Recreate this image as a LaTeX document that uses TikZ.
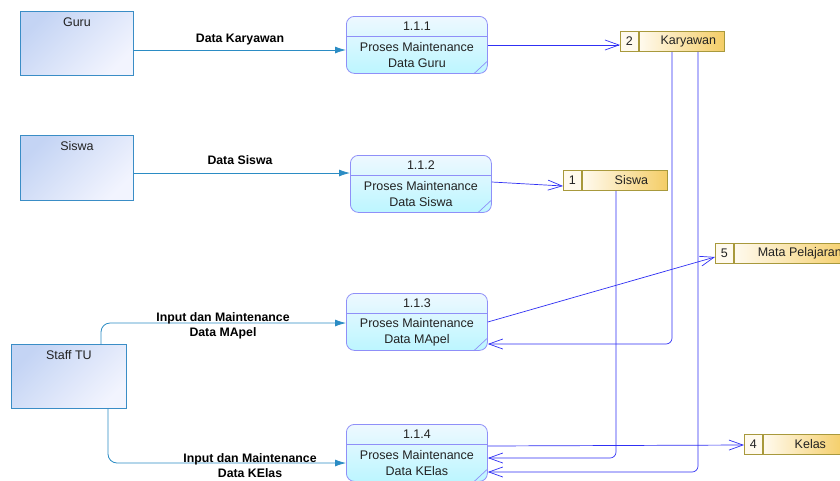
\documentclass[tikz,border=0pt]{standalone}
\usepackage{fontspec}
\setmainfont{Liberation Sans}
\usetikzlibrary{arrows.meta}

\definecolor{entline}{HTML}{3A8DC6}
\definecolor{enttop}{HTML}{C4D4F4}
\definecolor{entbot}{HTML}{F2F4FE}
\definecolor{flowent}{HTML}{2B8CC4}
\definecolor{procline}{HTML}{8F8FF8}
\definecolor{proctop}{HTML}{EEF8FF}
\definecolor{procbot}{HTML}{BCF6FF}
\definecolor{storeline}{HTML}{A8993C}
\definecolor{storeleft}{HTML}{FFFAEE}
\definecolor{storeright}{HTML}{F4CD66}
\definecolor{flowstore}{HTML}{3030F4}
\definecolor{ink}{HTML}{222222}

% process bubble: name, north-west x, north-west y, number, second text line
\newcommand\dfdproc[5]{%
  \node[proc, anchor=north west] (#1) at (#2,#3) {};
  \draw[procsep] ([yshift=-20pt]#1.north west) -- ([yshift=-20pt]#1.north east);
  \node[proctext] (#1num) at ([yshift=-10pt]#1.north) {#4};
  \node[proctext, align=center] (#1txt) at ([yshift=-10.5pt]#1.center) {Proses Maintenance\\#5};
  \draw[procsep] ([xshift=-14pt]#1.south east) -- ([yshift=13pt]#1.south east);
}
% data store: name, north-west x, north-west y, number, label, width of label cell
\newcommand\dfdstore[6]{%
  \node[storenum, anchor=north west] (#1n) at (#2,#3) {#4};
  \node[storename, anchor=north west, minimum width=#6] (#1) at (#1n.north east) {\hspace*{13pt}#5};
}

\begin{document}
\begin{tikzpicture}[x=1pt, y=-1pt,
  entity/.style={draw=entline, line width=0.9pt, top color=enttop, bottom color=entbot,
    shading angle=45, minimum width=113pt, minimum height=64pt, inner sep=0pt, anchor=north west},
  entlabel/.style={anchor=north, yshift=-6.5pt, inner sep=0pt, text=ink,
    font=\fontsize{12.5}{15}\selectfont},
  proc/.style={draw=procline, line width=0.8pt, rounded corners=8pt, top color=proctop,
    bottom color=procbot, minimum width=141pt, minimum height=57pt, inner sep=0pt},
  procsep/.style={draw=procline, line width=0.7pt},
  proctext/.style={inner sep=0pt, text=ink, font=\fontsize{12.5}{16}\selectfont},
  storenum/.style={draw=storeline, line width=0.9pt, fill=storeleft, minimum width=18pt,
    minimum height=20pt, inner sep=0pt, text=ink, font=\fontsize{12.5}{15}\selectfont},
  storename/.style={draw=storeline, line width=0.9pt, left color=storeleft, right color=storeright,
    minimum height=20pt, inner sep=0pt, text=ink, font=\fontsize{12.5}{15}\selectfont},
  eflow/.style={draw=flowent, line width=0.8pt, rounded corners=9pt,
    -{Latex[length=11pt,width=7pt]}},
  sflow/.style={draw=flowstore, line width=0.7pt, rounded corners=6pt,
    -{Straight Barb[length=14pt,width=10pt]}},
  flowlabel/.style={inner sep=0pt, text=black, font=\bfseries\fontsize{12.3}{15}\selectfont}
]
\fill[white] (0,0) rectangle (840,480);
\useasboundingbox (0,0) rectangle (840,480);

% external entities
\node[entity, label={[entlabel]north:Guru}] (guru) at (20,11) {};
\node[entity, minimum height=65pt, label={[entlabel]north:Siswa}] (siswa) at (20,135) {};
\node[entity, minimum width=115pt, label={[entlabel]north:Staff TU}] (staff) at (11,344) {};

% processes
\dfdproc{p1}{346}{16}{1.1.1}{Data Guru}
\dfdproc{p2}{350}{155}{1.1.2}{Data Siswa}
\dfdproc{p3}{346}{293}{1.1.3}{Data MApel}
\dfdproc{p4}{346}{424}{1.1.4}{Data KElas}

% data stores
\dfdstore{kar}{620}{31}{2}{Karyawan}{85pt}
\dfdstore{sis}{563}{170}{1}{Siswa}{85pt}
\dfdstore{map}{715}{243}{5}{Mata Pelajaran}{118pt}
\dfdstore{kel}{744}{434}{4}{Kelas}{81pt}

% flows from the entities
\draw[eflow] (guru.east |- 0,50) -- (p1.west |- 0,50);
\draw[eflow] (siswa.east |- 0,173) -- (p2.west |- 0,173);
\draw[eflow] (staff.north -| 101,0) |- (p3.west |- 0,323);
\draw[eflow] (staff.south -| 108,0) |- (p4.west |- 0,463);

% flows between processes and stores
\draw[sflow] (p1.east |- 0,45) -- (karn.west |- 0,45);
\draw[sflow] (p2.east |- 0,182) -- (sisn.west |- 0,186);
\draw[sflow] (p3.east |- 0,322) -- (mapn.west |- 0,257);
\draw[sflow] (kar.south -| 672,0) |- (p3.east |- 0,344);
\draw[sflow] (kar.south -| 698,0) |- (p4.east |- 0,472);
\draw[sflow] (sis.south -| 616,0) |- (p4.east |- 0,458);
\draw[sflow] (p4.east |- 0,446) -- (keln.west |- 0,445);

% flow labels
\node[flowlabel] (lkar) at (240,40) {Data Karyawan};
\node[flowlabel] (lsis) at (240,160) {Data Siswa};
\node[flowlabel, align=center] (lmap) at (223,325.5) {Input dan Maintenance\\Data MApel};
\node[flowlabel, align=center] (lkel) at (250,466) {Input dan Maintenance\\Data KElas};
\end{tikzpicture}
\end{document}
